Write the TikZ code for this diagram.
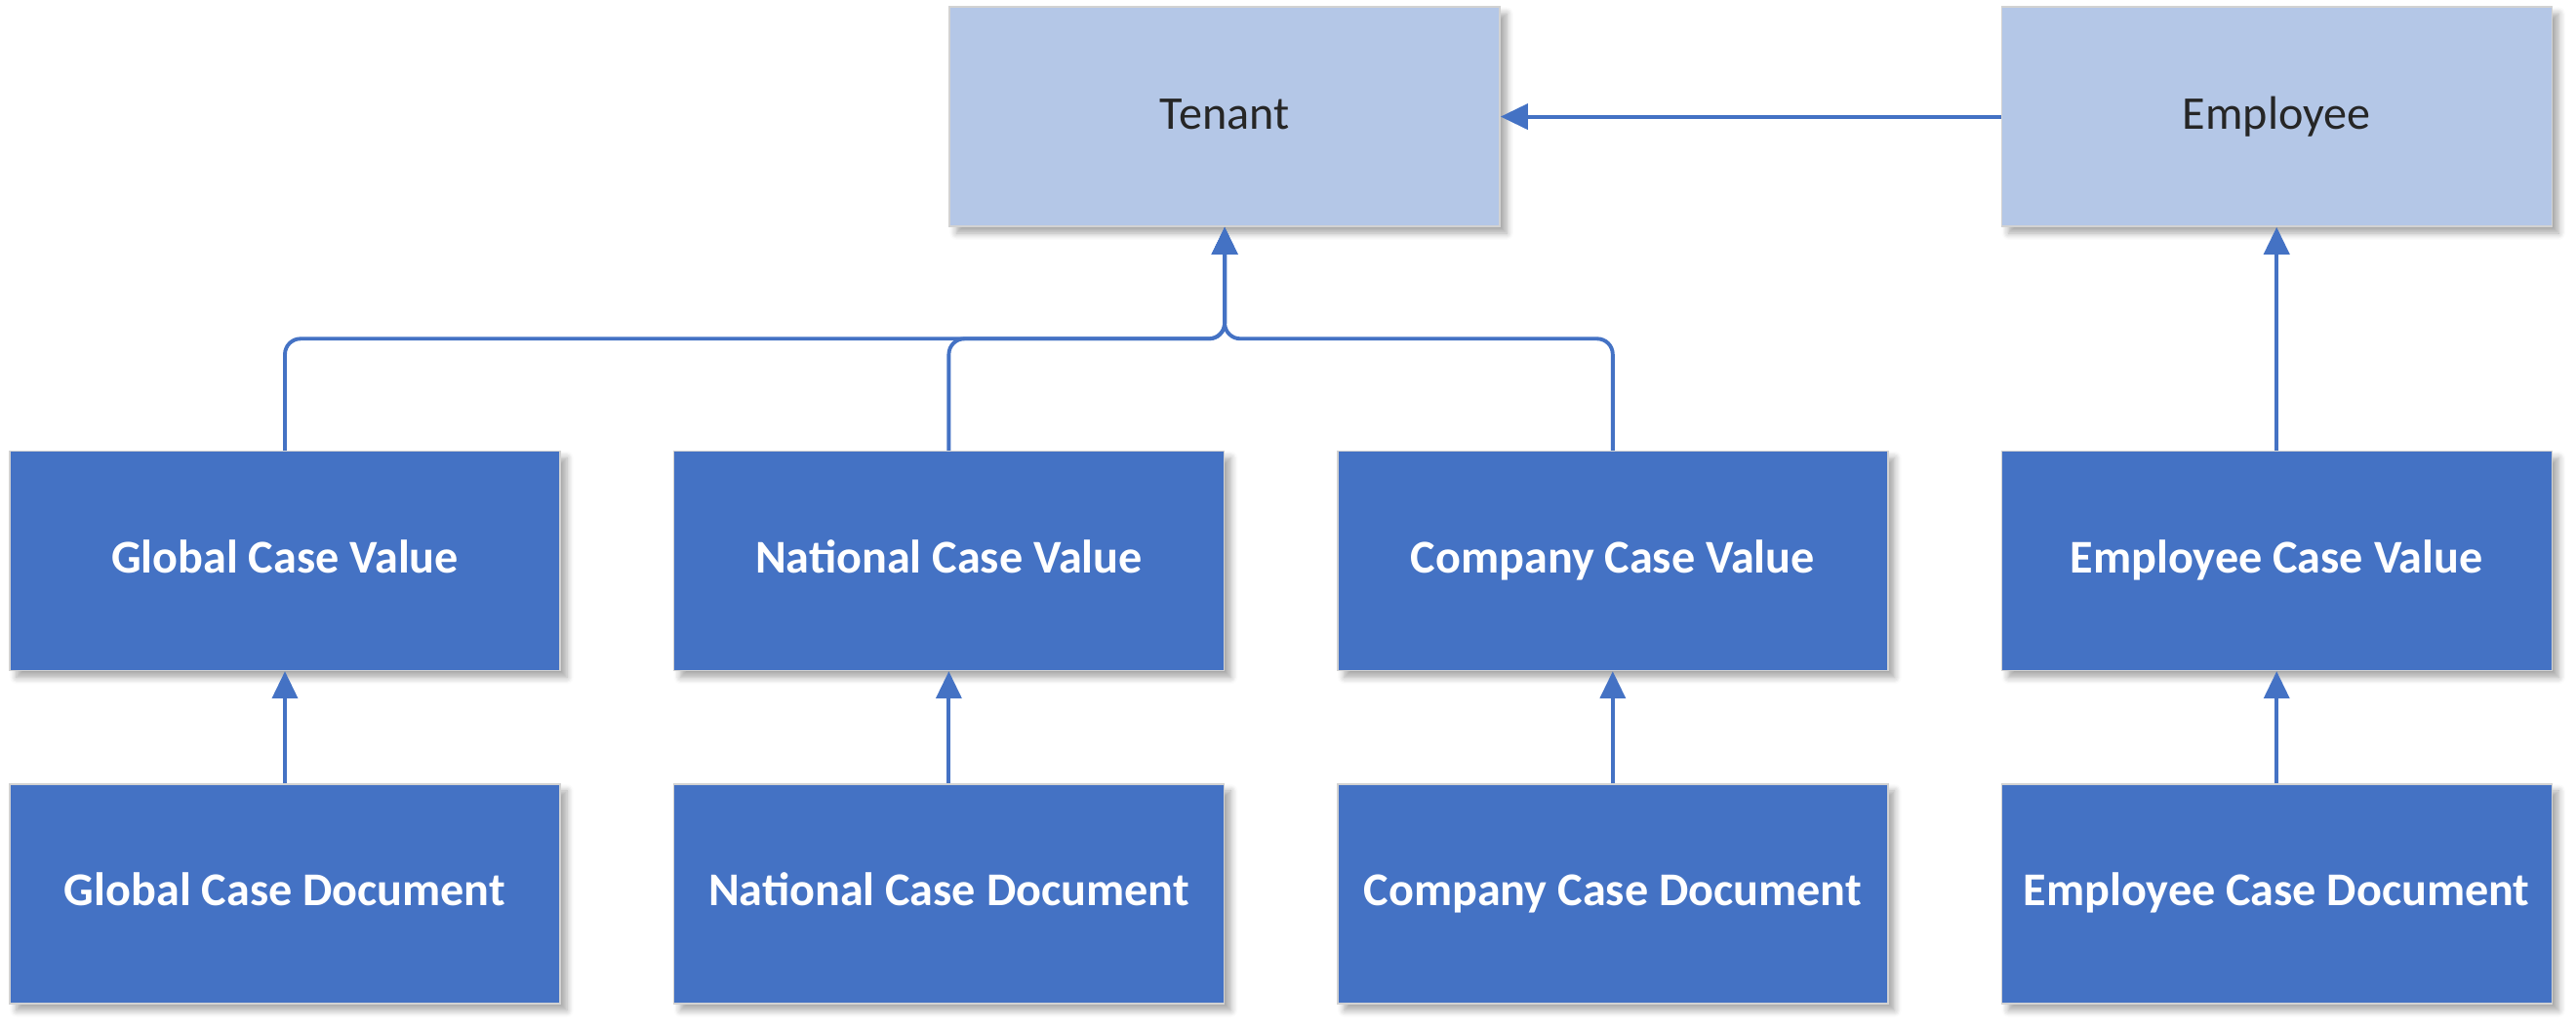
\documentclass[tikz,border=0pt]{standalone}
\usepackage{fontspec}
\setmainfont{Carlito}
\usetikzlibrary{arrows.meta,positioning,shadows.blur}
\definecolor{caseblue}{HTML}{4472C4}
\definecolor{caselight}{HTML}{B4C7E7}
\tikzset{%
  >={Triangle[width=2.6mm,length=2.8mm]},
  % Specifications for style of nodes:
         base/.style = {rectangle, draw=gray!35, line width=0.4pt,
                        minimum width=5.64cm, minimum height=2.25cm,
                        text height=1.5ex, text depth=0ex,
                        inner sep=0pt, text centered, font=\fontsize{13.7}{16}\selectfont,
                        blur shadow={shadow xshift=0.07cm, shadow yshift=-0.07cm,
                                     shadow blur steps=6, shadow opacity=35}},
       entity/.style = {base, fill=caselight, text=black!85},
    caseValue/.style = {base, fill=caseblue, text=white,
                        font=\fontsize{13.7}{16}\selectfont\bfseries},
      caseDoc/.style = {caseValue},
         link/.style = {->, draw=caseblue, line width=1.1pt},
}

\begin{document}
\begin{tikzpicture}[node distance=1.15cm]
  \useasboundingbox (0,0) rectangle (26.4,-10.54);

  % Specification of nodes (position, etc.)
  \node (globalValue)   [caseValue] at (2.92,-5.75)          {Global Case Value};
  \node (nationalValue) [caseValue, right=of globalValue]    {National Case Value};
  \node (companyValue)  [caseValue, right=of nationalValue]  {Company Case Value};
  \node (employeeValue) [caseValue, right=of companyValue]   {Employee Case Value};

  \node (globalDoc)     [caseDoc, below=of globalValue]      {Global Case Document};
  \node (nationalDoc)   [caseDoc, below=of nationalValue]    {National Case Document};
  \node (companyDoc)    [caseDoc, below=of companyValue]     {Company Case Document};
  \node (employeeDoc)   [caseDoc, below=of employeeValue]    {Employee Case Document};

  \node (tenant)   [entity, above right=2.29cm and 0cm of nationalValue.north] {Tenant};
  \node (employee) [entity, above=2.29cm of employeeValue]                     {Employee};

  \coordinate (hub) at ($(tenant.south)!0.5!(tenant.south |- nationalValue.north)$);

  % Specification of lines between nodes specified above
  \draw[link] (employee) -- (tenant);
  \draw[link] (employeeValue) -- (employee);

  \draw[link, rounded corners=0.16cm] (globalValue.north)   |- (hub) -- (tenant.south);
  \draw[link, rounded corners=0.16cm] (nationalValue.north) |- (hub) -- (tenant.south);
  \draw[link, rounded corners=0.16cm] (companyValue.north)  |- (hub) -- (tenant.south);

  \draw[link] (globalDoc)   -- (globalValue);
  \draw[link] (nationalDoc) -- (nationalValue);
  \draw[link] (companyDoc)  -- (companyValue);
  \draw[link] (employeeDoc) -- (employeeValue);

\end{tikzpicture}
\end{document}
